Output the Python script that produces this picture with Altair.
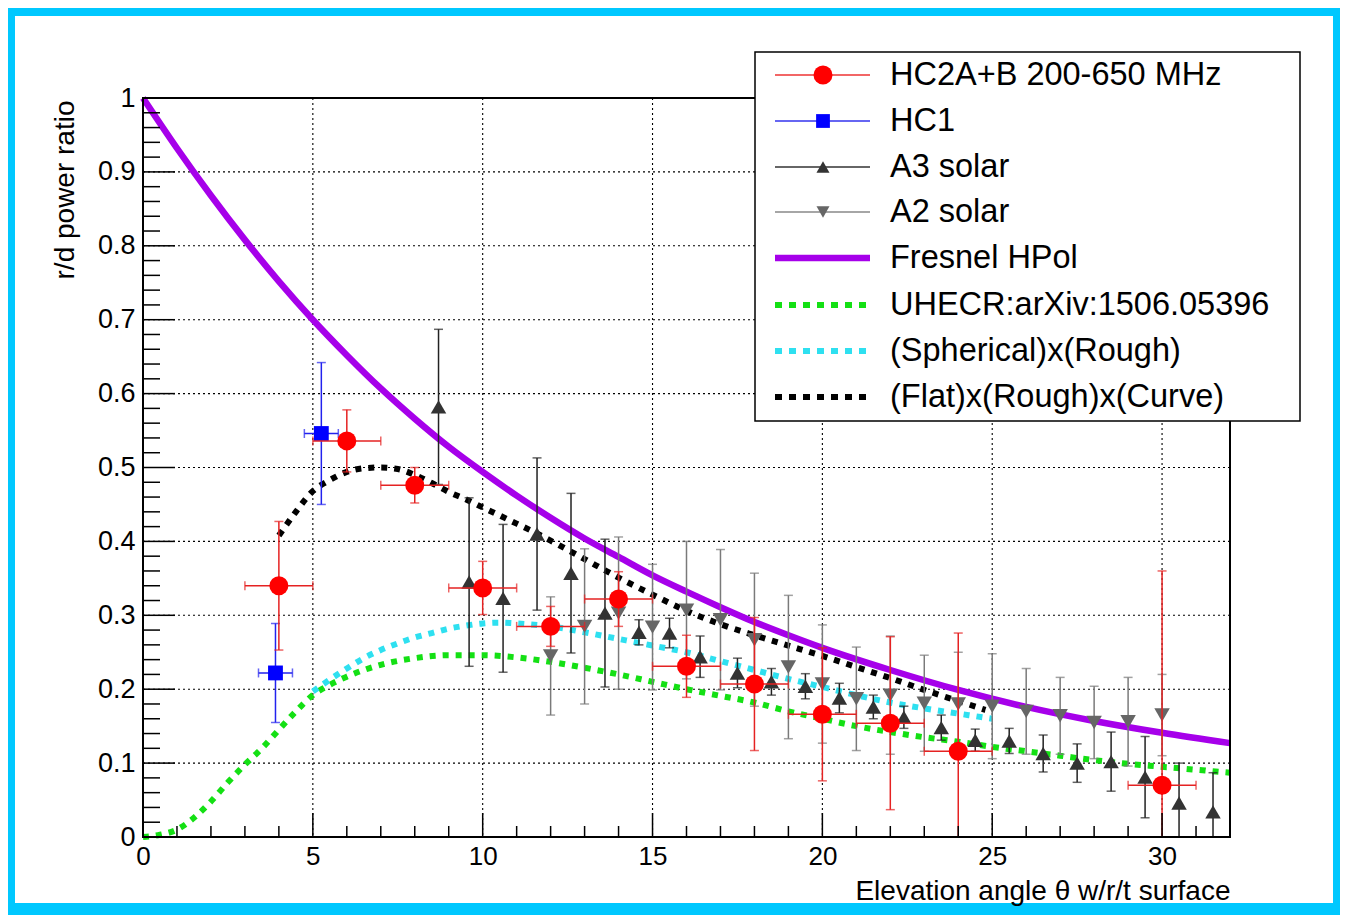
import altair as alt
import pandas as pd

# ---------------- data ----------------
# HC2A+B 200-650 MHz (red circles)
hc2_x = [4, 6, 8, 10, 12, 14, 16, 18, 20, 22, 24, 30]
hc2_y = [0.340, 0.536, 0.476, 0.337, 0.285, 0.322, 0.231, 0.207, 0.166, 0.154, 0.116, 0.070]
hc2_ey = [0.087, 0.042, 0.024, 0.036, 0.027, 0.037, 0.042, 0.090, 0.090, 0.117, 0.160, 0.290]
hc2_ex = [1.0, 1.0, 1.0, 1.0, 1.0, 1.0, 1.0, 1.0, 1.0, 1.0, 1.0, 1.0]

# HC1 (blue squares)
hc1_x = [3.9, 5.25]
hc1_y = [0.222, 0.546]
hc1_ey = [0.067, 0.096]
hc1_ex = [0.5, 0.5]

# A3 solar (dark up-triangles)
a3_x = [8.7, 9.6, 10.6, 11.6, 12.6, 13.6, 14.6, 15.5, 16.4, 17.5, 18.5, 19.5,
        20.5, 21.5, 22.4, 23.5, 24.5, 25.5, 26.5, 27.5, 28.5, 29.5, 30.5, 31.5]
a3_y = [0.582, 0.345, 0.323, 0.410, 0.357, 0.303, 0.277, 0.276, 0.244, 0.222, 0.210, 0.204,
        0.188, 0.176, 0.162, 0.148, 0.131, 0.130, 0.113, 0.100, 0.102, 0.081, 0.046, 0.034]
a3_ey = [0.105, 0.114, 0.100, 0.103, 0.108, 0.100, 0.017, 0.020, 0.028, 0.020, 0.018, 0.017,
         0.020, 0.016, 0.015, 0.017, 0.015, 0.017, 0.025, 0.026, 0.040, 0.055, 0.054, 0.053]

# A2 solar (gray down-triangles)
a2_x = [12, 13, 14, 15, 16, 17, 18, 19, 20, 21, 22, 23, 24, 25, 26, 27, 28, 29, 30]
a2_y = [0.245, 0.285, 0.303, 0.284, 0.307, 0.294, 0.267, 0.230, 0.207, 0.187, 0.192, 0.181,
        0.180, 0.177, 0.170, 0.164, 0.155, 0.156, 0.165]
a2_ey = [0.080, 0.105, 0.103, 0.085, 0.093, 0.095, 0.090, 0.097, 0.080, 0.070, 0.080, 0.065,
         0.070, 0.071, 0.058, 0.052, 0.049, 0.060, 0.055]

# Fresnel HPol (purple solid)
fr_x = [0, 1, 2, 3, 4, 5, 6, 7, 8, 9, 10, 11, 12, 13, 14, 15, 16, 17, 18, 19, 20,
        22, 24, 26, 28, 30, 32]
fr_y = [1.000, 0.932, 0.868, 0.808, 0.752, 0.700, 0.652, 0.607, 0.566, 0.528, 0.494,
        0.462, 0.432, 0.404, 0.379, 0.354, 0.332, 0.311, 0.291, 0.273, 0.256,
        0.226, 0.199, 0.176, 0.157, 0.141, 0.127]

# UHECR:arXiv:1506.05396 (green dotted)
uh_x = [0, 0.5, 1, 1.5, 2, 2.5, 3, 3.5, 4, 4.5, 5, 5.5, 6, 7, 8, 9, 10, 11, 12, 13, 14,
        15, 16, 17, 18, 19, 20, 21, 22, 23, 24, 25, 26, 27, 28, 29, 30, 31, 32]
uh_y = [0.000, 0.003, 0.010, 0.026, 0.048, 0.074, 0.098, 0.120, 0.145, 0.170, 0.192,
        0.206, 0.217, 0.233, 0.242, 0.246, 0.246, 0.243, 0.237, 0.229, 0.220,
        0.210, 0.200, 0.191, 0.182, 0.170, 0.160, 0.150, 0.142, 0.135, 0.129,
        0.122, 0.116, 0.110, 0.104, 0.099, 0.095, 0.091, 0.087]

# (Spherical)x(Rough) (cyan dotted)
sp_x = [5, 5.5, 6, 6.5, 7, 7.5, 8, 8.5, 9, 9.5, 10, 10.5, 11, 12, 13, 14, 15, 16, 17,
        18, 19, 20, 21, 22, 23, 24, 25]
sp_y = [0.197, 0.213, 0.228, 0.242, 0.253, 0.262, 0.270, 0.276, 0.282, 0.286, 0.289,
        0.290, 0.289, 0.285, 0.277, 0.268, 0.259, 0.250, 0.238, 0.226, 0.214, 0.203,
        0.192, 0.182, 0.174, 0.167, 0.160]

# (Flat)x(Rough)x(Curve) (black dotted)
fl_x = [4, 4.5, 5, 5.5, 6, 6.5, 7, 7.5, 8, 8.5, 9, 9.5, 10, 10.5, 11, 11.5, 12, 13, 14,
        15, 16, 17, 18, 19, 20, 21, 22, 23, 24, 24.8]
fl_y = [0.408, 0.440, 0.468, 0.483, 0.494, 0.499, 0.500, 0.498, 0.490, 0.479, 0.467,
        0.457, 0.446, 0.435, 0.424, 0.413, 0.401, 0.376, 0.351, 0.328, 0.306, 0.288,
        0.273, 0.259, 0.245, 0.230, 0.215, 0.199, 0.184, 0.172]

# axis ticks
x_major = [0, 5, 10, 15, 20, 25, 30]
x_minor = [1, 2, 3, 4, 6, 7, 8, 9, 11, 12, 13, 14, 16, 17, 18, 19, 21, 22, 23, 24,
           26, 27, 28, 29, 31, 32]
y_major = [0, 0.1, 0.2, 0.3, 0.4, 0.5, 0.6, 0.7, 0.8, 0.9, 1.0]
y_minor = [round(0.02 * i, 2) for i in range(51) if i % 5 != 0]
x_grid = [5, 10, 15, 20, 25, 30]
y_grid = [0.1, 0.2, 0.3, 0.4, 0.5, 0.6, 0.7, 0.8, 0.9]

legend_labels = ["HC2A+B 200-650 MHz", "HC1", "A3 solar", "A2 solar", "Fresnel HPol",
                 "UHECR:arXiv:1506.05396", "(Spherical)x(Rough)", "(Flat)x(Rough)x(Curve)"]

# ---------------- styling ----------------
W, H = 1087, 739
FONT = "Liberation Sans"
RED, BLUE = "#ff0000", "#0000ff"
A3C, A2C = "#333333", "#666666"
PURPLE, GREEN, CYAN = "#a600ea", "#14e014", "#2ee0f0"

XS = alt.Scale(domain=[0, 32], nice=False, zero=False)
YS = alt.Scale(domain=[0, 1], nice=False, zero=False)
XAX = alt.Axis(values=x_major, format="d", title="Elevation angle θ w/r/t surface",
               grid=False, ticks=False, domain=False, labelFont=FONT, labelFontSize=26,
               labelColor="black", labelPadding=6, labelFlush=False, labelOverlap=False,
               titleFont=FONT, titleFontSize=28, titleFontWeight="normal", titleColor="black",
               titleX=W, titleY=62, titleAlign="right", titleBaseline="alphabetic", zindex=1)
YAX = alt.Axis(values=y_major, format=".1~f", title="r/d power ratio",
               grid=False, ticks=False, domain=False, labelFont=FONT, labelFontSize=27,
               labelColor="black", labelPadding=8, labelFlush=False, labelOverlap=False,
               titleFont=FONT, titleFontSize=28, titleFontWeight="normal", titleColor="black",
               titleAngle=270, titleX=-70, titleY=2, titleAlign="right",
               titleBaseline="alphabetic", zindex=1)


def X(f):
    return alt.X(f"{f}:Q", scale=XS, axis=XAX)


def Y(f):
    return alt.Y(f"{f}:Q", scale=YS, axis=YAX)


def table(xv, yv, ey, ex=None):
    d = pd.DataFrame({"x": xv, "y": yv})
    d["ylo"] = [max(0.0, a - b) for a, b in zip(yv, ey)]
    d["yhi"] = [min(1.0, a + b) for a, b in zip(yv, ey)]
    if ex is not None:
        d["xlo"] = [a - b for a, b in zip(xv, ex)]
        d["xhi"] = [a + b for a, b in zip(xv, ex)]
    return d


one = pd.DataFrame({"k": [0]})
layers = []

# white page inside the cyan frame
layers.append(alt.Chart(one).mark_rect(fill="white").encode(
    x=alt.value(-128), x2=alt.value(1190), y=alt.value(-82), y2=alt.value(805)))

# grid
gdash = [2, 3]
layers.append(alt.Chart(pd.DataFrame({"g": x_grid})).mark_rule(
    color="black", strokeWidth=1.1, strokeDash=gdash).encode(
    x=X("g"), y=alt.value(0), y2=alt.value(H)))
layers.append(alt.Chart(pd.DataFrame({"g": y_grid})).mark_rule(
    color="black", strokeWidth=1.1, strokeDash=gdash).encode(
    y=Y("g"), x=alt.value(0), x2=alt.value(W)))


# curves
def curve(xv, yv, color, width, dash=None):
    kw = dict(color=color, strokeWidth=width, interpolate="monotone", strokeCap="butt")
    if dash is not None:
        kw["strokeDash"] = dash
    return alt.Chart(pd.DataFrame({"x": xv, "y": yv})).mark_line(**kw).encode(
        x=X("x"), y=Y("y"), order="x:Q")


layers.append(curve(uh_x, uh_y, GREEN, 6, [6, 7]))
layers.append(curve(sp_x, sp_y, CYAN, 6, [6, 7]))
layers.append(curve(fl_x, fl_y, "black", 6, [6, 7]))
layers.append(curve(fr_x, fr_y, PURPLE, 6.5))


# data with error bars
def series(d, line_color, marker_color, shape, size, xerr):
    out = []
    base = alt.Chart(d)
    out.append(base.mark_rule(color=line_color, strokeWidth=1.5).encode(
        x=X("x"), y=Y("ylo"), y2="yhi:Q"))
    out.append(base.mark_tick(color=line_color, orient="horizontal", size=9,
                              thickness=1.5).encode(x=X("x"), y=Y("yhi")))
    out.append(base.mark_tick(color=line_color, orient="horizontal", size=9,
                              thickness=1.5).encode(x=X("x"), y=Y("ylo")))
    if xerr:
        out.append(base.mark_rule(color=line_color, strokeWidth=1.5).encode(
            x=X("xlo"), x2="xhi:Q", y=Y("y")))
        out.append(base.mark_tick(color=line_color, orient="vertical", size=9,
                                  thickness=1.5).encode(x=X("xlo"), y=Y("y")))
        out.append(base.mark_tick(color=line_color, orient="vertical", size=9,
                                  thickness=1.5).encode(x=X("xhi"), y=Y("y")))
    out.append(base.mark_point(shape=shape, size=size, filled=True, opacity=1,
                               color=marker_color).encode(x=X("x"), y=Y("y")))
    return out


layers += series(table(a2_x, a2_y, a2_ey), "#7a7a7a", A2C, "triangle-down", 240, False)
layers += series(table(a3_x, a3_y, a3_ey), "#222222", A3C, "triangle-up", 240, False)
layers += series(table(hc1_x, hc1_y, hc1_ey, hc1_ex), "#2222ee", BLUE, "square", 220, True)
layers += series(table(hc2_x, hc2_y, hc2_ey, hc2_ex), "#e52222", RED, "circle", 360, True)

# axis ticks (inward, ROOT style)
layers.append(alt.Chart(pd.DataFrame({"t": x_major})).mark_rule(color="black", strokeWidth=1.5)
              .encode(x=X("t"), y=alt.value(H), y2=alt.value(H - 24)))
layers.append(alt.Chart(pd.DataFrame({"t": x_minor})).mark_rule(color="black", strokeWidth=1.5)
              .encode(x=X("t"), y=alt.value(H), y2=alt.value(H - 11)))
layers.append(alt.Chart(pd.DataFrame({"t": y_major})).mark_rule(color="black", strokeWidth=1.5)
              .encode(y=Y("t"), x=alt.value(0), x2=alt.value(32)))
layers.append(alt.Chart(pd.DataFrame({"t": y_minor})).mark_rule(color="black", strokeWidth=1.5)
              .encode(y=Y("t"), x=alt.value(0), x2=alt.value(17)))

# frame
layers.append(alt.Chart(one).mark_rect(fillOpacity=0, stroke="black", strokeWidth=2).encode(
    x=alt.value(0), x2=alt.value(W), y=alt.value(0), y2=alt.value(H)))

# legend
LX0, LX1, LY0, LY1 = 612, 1157, -46, 323
layers.append(alt.Chart(one).mark_rect(fill="white", stroke="black", strokeWidth=1.5).encode(
    x=alt.value(LX0), x2=alt.value(LX1), y=alt.value(LY0), y2=alt.value(LY1)))

row_y = [-23, 23, 69, 114, 160, 207, 253, 299]
SX0, SX1, SXM, TX = 632, 727, 680, 747
leg_style = [
    dict(color="#ee3333", width=1.5, shape="circle", mcolor=RED, size=360),
    dict(color="#3333ee", width=1.5, shape="square", mcolor=BLUE, size=190),
    dict(color="#333333", width=1.5, shape="triangle-up", mcolor=A3C, size=170),
    dict(color="#888888", width=1.5, shape="triangle-down", mcolor=A2C, size=170),
    dict(color=PURPLE, width=6.5),
    dict(color=GREEN, width=6, dash=[7, 7]),
    dict(color=CYAN, width=6, dash=[7, 7]),
    dict(color="black", width=6, dash=[7, 7]),
]
for lab, yy, st in zip(legend_labels, row_y, leg_style):
    kw = dict(color=st["color"], strokeWidth=st["width"], strokeCap="butt")
    if "dash" in st:
        kw["strokeDash"] = st["dash"]
    layers.append(alt.Chart(one).mark_rule(**kw).encode(
        x=alt.value(SX0), x2=alt.value(SX1), y=alt.value(yy)))
    if "shape" in st:
        layers.append(alt.Chart(one).mark_point(shape=st["shape"], size=st["size"], filled=True,
                                                opacity=1, color=st["mcolor"]).encode(
            x=alt.value(SXM), y=alt.value(yy)))
    layers.append(alt.Chart(one).mark_text(text=lab, font=FONT, fontSize=32.5, color="black",
                                           align="left", baseline="middle").encode(
        x=alt.value(TX), y=alt.value(yy)))

chart = alt.layer(*layers).properties(
    width=W, height=H,
    padding={"left": 135, "top": 90, "right": 110, "bottom": 78},
    autosize=alt.AutoSizeParams(type="none"),
    background="#00c8ff",
).configure_view(stroke="transparent").configure(font=FONT)

chart.save("out.html", embed_options={"renderer": "svg", "actions": False})
